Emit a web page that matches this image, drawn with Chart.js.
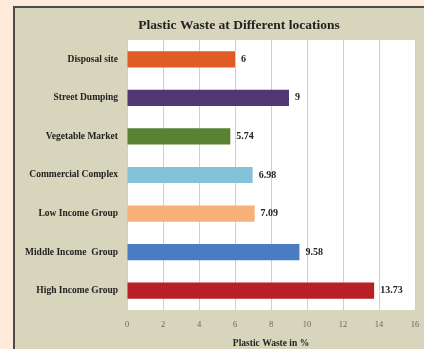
<!DOCTYPE html>
<html>
<head>
<meta charset="utf-8">
<script src="https://cdn.jsdelivr.net/npm/chart.js@4.4.1/dist/chart.umd.min.js"></script>
<style>
	html, body { margin: 0; background: #fdeadb; width: 424px; height: 349px; overflow: hidden; }
	#frame {
		position: absolute; left: 13px; top: 6px; width: 409px; height: 341px;
		border-left: 2px solid #4b4b48; border-top: 2px solid #4b4b48;
		background: #d8d5bd;
	}
	#chart { display: block; }
</style>
</head>
<body>
<div id="frame"><canvas id="chart" width="409" height="341"></canvas></div>
<script>
const chartTitle = "Plastic Waste at Different locations";
const axisTitle = "Plastic Waste in %";
const locations = ["Disposal site", "Street Dumping", "Vegetable Market", "Commercial Complex",
	"Low Income Group", "Middle Income  Group", "High Income Group"];
const wastePercent = [6, 9, 5.74, 6.98, 7.09, 9.58, 13.73];
const valueLabels = ["6", "9", "5.74", "6.98", "7.09", "9.58", "13.73"];
const barColors = ["#e15b25", "#4f3874", "#5a8233", "#84c2da", "#f7b07a", "#4a7cc4", "#b81f27"];

const serif = "'Liberation Serif', 'DejaVu Serif', serif";

//white plot background
const plotBg = {
	id: "plotBg",
	beforeDraw(chart) {
		const a = chart.chartArea;
		const ctx = chart.ctx;
		ctx.save();
		ctx.fillStyle = "#ffffff";
		ctx.fillRect(a.left, a.top, a.right - a.left, a.bottom - a.top);
		ctx.restore();
	}
};

//title and value labels
const textBits = {
	id: "textBits",
	afterDraw(chart) {
		const ctx = chart.ctx;
		ctx.save();
		ctx.fillStyle = "#222222";
		ctx.font = "bold 13.5px " + serif;
		ctx.textAlign = "center";
		ctx.textBaseline = "middle";
		ctx.fillText(chartTitle, 224, 17.5);

		ctx.font = "bold 10px " + serif;
		ctx.textAlign = "left";
		chart.getDatasetMeta(0).data.forEach((bar, i) => {
			ctx.fillText(valueLabels[i], bar.x + 6, bar.y);
		});
		ctx.restore();
	}
};

new Chart(document.getElementById("chart"), {
	type: "bar",
	data: {
		labels: locations,
		datasets: [{
			data: wastePercent,
			backgroundColor: barColors,
			borderWidth: 0,
			barPercentage: 0.42,
			categoryPercentage: 1,
		}],
	},
	options: {
		indexAxis: "y",
		responsive: false,
		animation: false,
		layout: { padding: { top: 32, right: 9, left: 0, bottom: 0 } },
		plugins: {
			legend: { display: false },
			title: { display: false },
			tooltip: { enabled: false },
		},
		scales: {
			x: {
				min: 0,
				max: 16,
				ticks: { stepSize: 2, color: "#666666", font: { family: serif, size: 8.5 }, padding: 10 },
				grid: { color: "#cfcfcf", drawTicks: false },
				border: { display: false },
				title: {
					display: true,
					text: axisTitle,
					color: "#222222",
					font: { family: serif, size: 9.5, weight: "bold" },
					padding: { top: 8, bottom: 0 },
				},
				afterFit(scale) {
					scale.height = 39;
					scale.paddingLeft = 0;
					scale.paddingRight = 0;
				},
			},
			y: {
				ticks: { color: "#222222", font: { family: serif, size: 9.5, weight: "bold" }, padding: 9 },
				grid: { display: false, drawTicks: false },
				border: { display: false },
				afterFit(scale) { scale.width = 112; },
			},
		},
	},
	plugins: [plotBg, textBits],
});
</script>
</body>
</html>
